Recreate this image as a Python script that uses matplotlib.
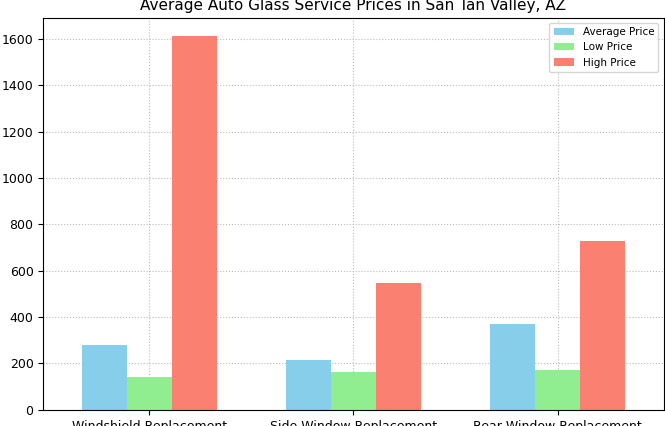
import matplotlib.pyplot as plt
import numpy as np

categories = ["Windshield Replacement", "Side Window Replacement", "Rear Window Replacement"]
avg = [280, 215, 370]
low = [140, 165, 170]
high = [1610, 545, 730]

plt.rcParams["font.size"] = 9
fig, ax = plt.subplots(figsize=(6.65, 4.26), dpi=100)
x = np.arange(len(categories))
w = 0.22
ax.bar(x - w, avg, w, color="#87ceeb", label="Average Price")
ax.bar(x, low, w, color="#90ee90", label="Low Price")
ax.bar(x + w, high, w, color="#fa8072", label="High Price")
ax.set_xticks(x)
ax.set_xticklabels(categories)
ax.set_ylabel("Price ($)")
ax.set_title("Average Auto Glass Service Prices in San Tan Valley, AZ", fontsize=11)
ax.set_xlim(-0.52, 2.52)
ax.set_ylim(0, 1690)
ax.grid(True, linestyle=":", color="#bbbbbb")
ax.set_axisbelow(True)
ax.legend(loc="upper right", fontsize=7.5)
fig.subplots_adjust(left=0.065, right=0.998, top=0.958, bottom=0.038)
fig.savefig("out.png")
